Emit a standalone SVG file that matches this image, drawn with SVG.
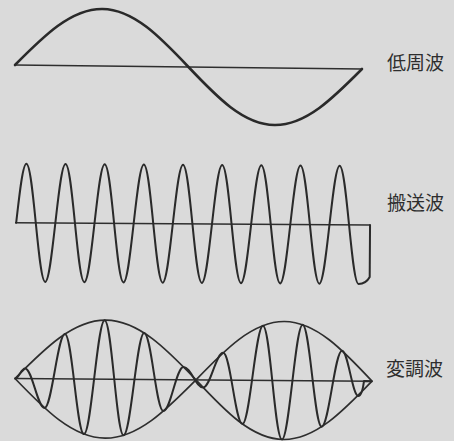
<svg xmlns="http://www.w3.org/2000/svg" width="454" height="441" viewBox="0 0 454 441">
<style>
.bg{fill:#dadada}
.axis{fill:none;stroke:#2e2e2e;stroke-width:1.6}
.wave{fill:none;stroke:#2a2a2a;stroke-width:2;stroke-linejoin:round;stroke-linecap:round}
.thick{stroke-width:2.6}
.env{fill:none;stroke:#2e2e2e;stroke-width:1.7}
.label{font-family:"Noto Sans CJK JP","Noto Sans",sans-serif;font-size:19px;fill:#2e2e2e}
</style>
<rect class="bg" x="0" y="0" width="454" height="441"/>
<g id="low-frequency-wave" transform="translate(15,65) rotate(0.66)">
<path class="axis" d="M0,0 H347"/>
<path class="wave thick" d="M0,0 c28.29,-29.2 55.36,-57 86.75,-57 s58.46,27.8 86.75,57 s55.36,57 86.75,57 s58.46,-27.8 86.75,-57"/>
</g>
<g id="carrier-wave" transform="translate(15,222.7) rotate(0.37)">
<path class="axis" d="M0,0 H355"/>
<path class="wave" d="M1.2,0 c3.19,-30.2 6.25,-59 9.79,-59 s6.6,28.8 9.79,59 s6.25,59 9.79,59 s6.6,-28.8 9.79,-59
s6.25,-59 9.79,-59 s6.6,28.8 9.79,59 s6.25,59 9.79,59 s6.6,-28.8 9.79,-59
s6.25,-59 9.79,-59 s6.6,28.8 9.79,59 s6.25,59 9.79,59 s6.6,-28.8 9.79,-59
s6.25,-59 9.79,-59 s6.6,28.8 9.79,59 s6.25,59 9.79,59 s6.6,-28.8 9.79,-59
s6.25,-59 9.79,-59 s6.6,28.8 9.79,59 s6.25,59 9.79,59 s6.6,-28.8 9.79,-59
s6.25,-59 9.79,-59 s6.6,28.8 9.79,59 s6.25,59 9.79,59 s6.6,-28.8 9.79,-59
s6.25,-59 9.79,-59 s6.6,28.8 9.79,59 s6.25,59 9.79,59 s6.6,-28.8 9.79,-59
s6.25,-59 9.79,-59 s6.6,28.8 9.79,59 s6.25,59 9.79,59 s6.6,-28.8 9.79,-59
s6.25,-59 9.79,-59 s6.6,28.8 9.79,59 s6.25,59 9.79,59
c3.5,0 8,-1 11.2,-7 V0"/>
</g>
<g id="modulated-wave" transform="translate(15,378.5) rotate(0.43)">
<path class="axis" d="M0,0 H357"/>
<path class="env" d="M0,0 C29.51,-30.23 57.75,-59 90.5,-59 S151.49,-30.23 181,0 M0,0 C29.51,30.23 57.75,59 90.5,59 S151.49,30.23 181,0"/>
<path class="env" d="M181,0 C209.7,-30.23 237.15,-59 269,-59 S328.3,-30.23 357,0 M181,0 C209.7,30.23 237.15,59 269,59 S328.3,30.23 357,0"/>
<path class="wave" stroke-width="1.7" d="M0,0 C4,0 6,-10.2 10,-10.2
C17.2,-10.2 22.6,29.2 29.8,29.2
C37,29.2 42.4,-44.8 49.6,-44.8
C56.8,-44.8 62.2,55.1 69.4,55.1
C76.6,55.1 82,-59 89.2,-59
C96.4,-59 101.8,56 109,56
C116.2,56 121.6,-46.4 128.8,-46.4
C136,-46.4 141.4,31.4 148.6,31.4
C155.8,31.4 161.2,-12.8 168.4,-12.8
C175.6,-12.8 181,7.6 188.2,7.6
C195.4,7.6 200.8,-27.3 208,-27.3
C215.2,-27.3 220.6,43.7 227.8,43.7
C235,43.7 240.4,-54.7 247.6,-54.7
C254.8,-54.7 260.2,59 267.4,59
C274.6,59 280,-55.9 287.2,-55.9
C294.4,-55.9 299.8,45.9 307,45.9
C314.2,45.9 319.6,-30.3 326.8,-30.3
C332.8,-30.3 337.5,15 343.5,15
C346,15 348,8 349,0 L357,0"/>
</g>
<g id="labels">
<text class="label" x="387" y="70">低周波</text>
<text class="label" x="387" y="210">搬送波</text>
<text class="label" x="386" y="376">変調波</text>
</g>
</svg>
